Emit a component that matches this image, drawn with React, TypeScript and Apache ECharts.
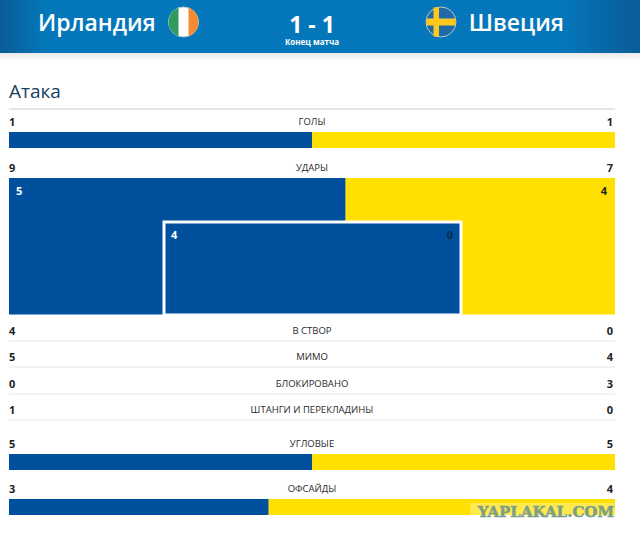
import React, { useEffect, useRef } from "react";
import * as echarts from "echarts";

const homeTeam = "Ирландия";
const awayTeam = "Швеция";
const score = "1 - 1";
const matchStatus = "Конец матча";
const sectionTitle = "Атака";

const barCategories = ["ГОЛЫ", "УДАРЫ", "УГЛОВЫЕ", "ОФСАЙДЫ"];
const barHome = [1, 9, 5, 3];
const barAway = [1, 7, 5, 4];
const shotOuterHome = 5;
const shotOuterAway = 4;
const shotInnerHome = 4;
const shotInnerAway = 0;
const drawnHome = [1, shotOuterHome, 5, 3];
const drawnAway = [1, shotOuterAway, 5, 4];

const rowCategories = ["В СТВОР", "МИМО", "БЛОКИРОВАНО", "ШТАНГИ И ПЕРЕКЛАДИНЫ"];
const rowHome = [4, 5, 0, 1];
const rowAway = [0, 4, 3, 0];

const BLUE = "#00509d";
const YELLOW = "#ffe000";
const FONT = "'Open Sans', sans-serif";

const circ = (r: number) => `M${-r},0 A${r},${r} 0 1 1 ${r},0 A${r},${r} 0 1 1 ${-r},0 Z`;
echarts.graphic.registerShape("flagDisc", echarts.graphic.extendPath(circ(15), {}) as any);
echarts.graphic.registerShape(
  "flagLeftSeg",
  echarts.graphic.extendPath("M-5,-14.14 A15,15 0 0 0 -5,14.14 Z", {}) as any
);
echarts.graphic.registerShape(
  "flagRightSeg",
  echarts.graphic.extendPath("M5,-14.14 A15,15 0 0 1 5,14.14 Z", {}) as any
);
echarts.graphic.registerShape(
  "flagCross",
  echarts.graphic.extendPath(
    "M-7.5,-14.4 L-2,-14.9 L-2,-3.5 L14.6,-3.5 L14.6,3.5 L-2,3.5 L-2,14.9 L-7.5,14.4 L-7.5,3.5 L-14.6,3.5 L-14.6,-3.5 L-7.5,-3.5 Z",
    {}
  ) as any
);

const barRows = [
  { top: 132, h: 16, labelY: 121.5 },
  { top: 178, h: 136.5, labelY: 167.5 },
  { top: 454, h: 16, labelY: 443.5 },
  { top: 499, h: 16, labelY: 488.5 },
];
const rowY = [330, 356.5, 383, 409.5];
const rowLineY = [341, 367, 394, 420];

function text(x: number, y: number, t: string, size: number, fill: string, align: string, weight: any = "normal", z = 10, family = FONT, extra: any = {}) {
  return {
    type: "text",
    x,
    y,
    z,
    silent: true,
    style: { text: t, fontSize: size, fill, align, verticalAlign: "middle", fontWeight: weight, fontFamily: family, ...extra },
  };
}

export default function App() {
  const ref = useRef<HTMLDivElement>(null);
  useEffect(() => {
    const chart = echarts.init(ref.current!, undefined, { renderer: "svg" });
    const grids: any[] = [];
    const xAxes: any[] = [];
    const yAxes: any[] = [];
    const series: any[] = [];
    const addBar = (left: number, width: number, top: number, h: number, home: number, away: number, name: string, z: number, border: boolean) => {
      const i = grids.length;
      grids.push({ left, width, top, height: h, containLabel: false });
      xAxes.push({ type: "value", gridIndex: i, min: 0, max: home + away, show: false });
      yAxes.push({ type: "category", gridIndex: i, data: [name], show: false });
      const common = { type: "bar", stack: "s" + i, xAxisIndex: i, yAxisIndex: i, barWidth: "100%", silent: true, z };
      series.push({
        ...common,
        name: name + " home",
        data: [home],
        itemStyle: border ? { color: BLUE, borderColor: "#ffffff", borderWidth: 3 } : { color: BLUE },
      });
      series.push({
        ...common,
        name: name + " away",
        data: [away],
        itemStyle: { color: YELLOW },
      });
    };
    barRows.forEach((r, i) => addBar(9, 606, r.top, r.h, drawnHome[i], drawnAway[i], barCategories[i], 2, false));
    addBar(162.5, 300, 220.5, 96, shotInnerHome, shotInnerAway, "В СТВОР", 4, true);

    const g: any[] = [
      {
        type: "rect",
        z: 0,
        shape: { x: 0, y: 0, width: 640, height: 53 },
        style: {
          fill: new echarts.graphic.LinearGradient(0, 0, 1, 0, [
            { offset: 0, color: "#0a5c96" },
            { offset: 0.07, color: "#0477ba" },
            { offset: 0.88, color: "#0477ba" },
            { offset: 1, color: "#0a5c96" },
          ]),
        },
      },
      {
        type: "rect",
        z: 0,
        shape: { x: 0, y: 53, width: 640, height: 8 },
        style: {
          fill: new echarts.graphic.LinearGradient(0, 0, 0, 1, [
            { offset: 0, color: "#e9eaeb" },
            { offset: 1, color: "#ffffff" },
          ]),
        },
      },
      text(38, 21.5, homeTeam, 23, "#ffffff", "left", 600),
      text(564, 21.5, awayTeam, 23, "#ffffff", "right", 600),
      text(312, 24, score, 23, "#ffffff", "center", 700, 10, FONT, { lineHeight: 20 }),
      text(312, 41.5, matchStatus, 8, "#ffffff", "center", 700, 10, FONT, { lineHeight: 9 }),
      text(9, 91, sectionTitle, 19, "#17405f", "left"),
      { type: "flagDisc", x: 183.5, y: 22, z: 5, style: { fill: "#ffffff", stroke: "#b8c8cc", lineWidth: 1 } },
      { type: "flagLeftSeg", x: 183.5, y: 22, z: 6, style: { fill: "#2f9a5c" } },
      { type: "flagRightSeg", x: 183.5, y: 22, z: 6, style: { fill: "#f58a33" } },
      { type: "flagDisc", x: 441, y: 22, z: 5, style: { fill: "#1f6aa8", stroke: "#b8c8cc", lineWidth: 1 } },
      { type: "flagCross", x: 441, y: 22, z: 6, style: { fill: "#fdc81e" } },
      { type: "line", z: 1, shape: { x1: 9, y1: 109, x2: 615, y2: 109 }, style: { stroke: "#dcdcdc", lineWidth: 1.5 } },
    ];
    rowLineY.forEach((y) =>
      g.push({ type: "line", z: 1, shape: { x1: 9, y1: y, x2: 615, y2: y }, style: { stroke: "#e6e6e6", lineWidth: 1 } })
    );
    const NUM = "#222222";
    barRows.forEach((r, i) => {
      g.push(text(9, r.labelY, String(barHome[i]), 11, NUM, "left", 700));
      g.push(text(613, r.labelY, String(barAway[i]), 11, NUM, "right", 700));
      g.push(text(312, r.labelY, barCategories[i], 9.5, "#2a2a2a", "center"));
    });
    rowY.forEach((y, i) => {
      g.push(text(9, y, String(rowHome[i]), 11, NUM, "left", 700));
      g.push(text(613, y, String(rowAway[i]), 11, NUM, "right", 700));
      g.push(text(312, y, rowCategories[i], 9.5, "#2a2a2a", "center"));
    });
    g.push(text(16, 190, String(shotOuterHome), 11, "#ffffff", "left", 700));
    g.push(text(607, 190, String(shotOuterAway), 11, "#222222", "right", 700));
    g.push(text(171, 234, String(shotInnerHome), 11, "#ffffff", "left", 700));
    g.push(text(453, 234, String(shotInnerAway), 11, "#0b2a4d", "right", 700));
    g.push({ type: "rect", z: 20, shape: { x: 470, y: 503, width: 145, height: 14 }, style: { fill: "rgba(255,255,255,0.3)" } });
    g.push(text(614, 511.5, "YAPLAKAL.COM", 15, "#7c9f86", "right", 700, 21, "'DejaVu Serif', serif", { stroke: "#7c9f86", lineWidth: 0.5 }));

    chart.setOption({
      animation: false,
      backgroundColor: "#ffffff",
      grid: grids,
      xAxis: xAxes,
      yAxis: yAxes,
      series,
      graphic: { elements: g },
    });
    return () => chart.dispose();
  }, []);
  return <div ref={ref} style={{ position: "fixed", left: 0, top: 0, width: 640, height: 542 }} />;
}
